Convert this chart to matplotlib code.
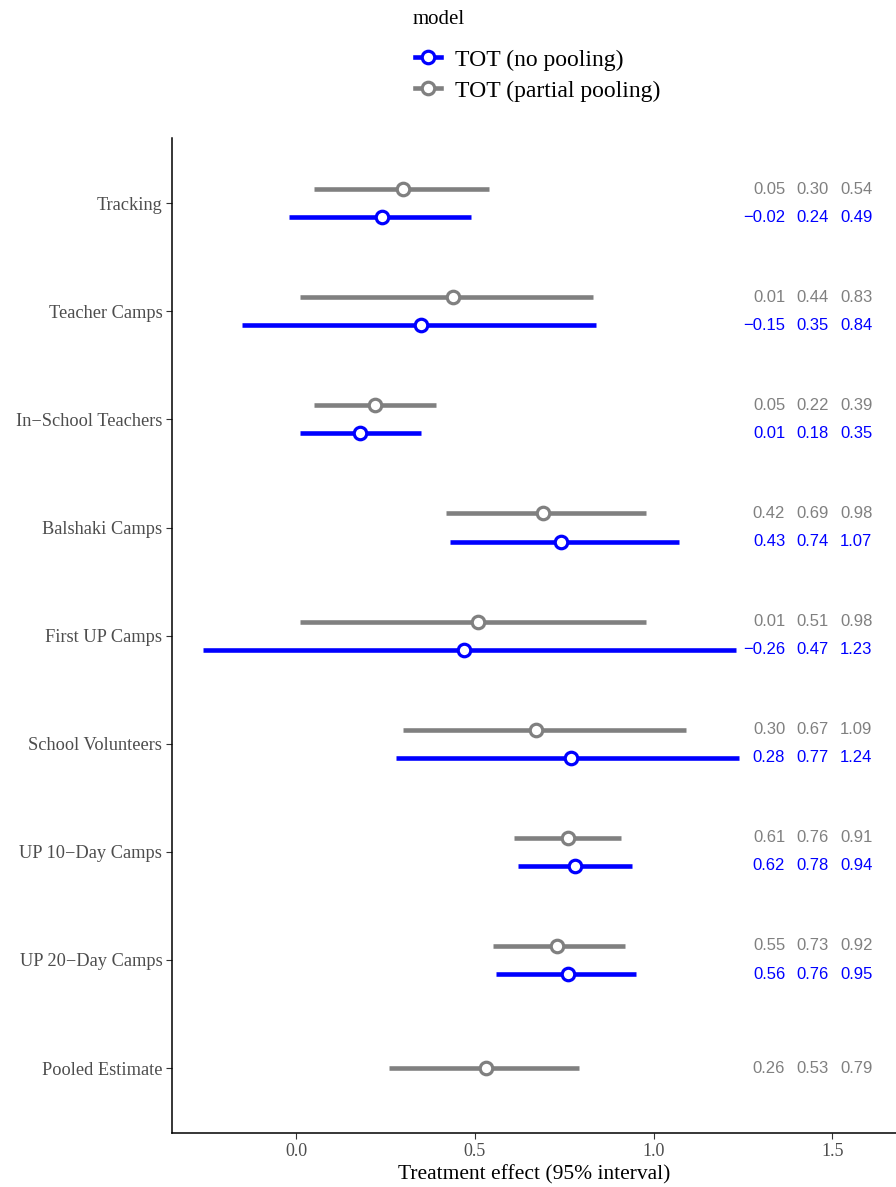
import matplotlib.pyplot as plt
from matplotlib.lines import Line2D

# categories, top to bottom
programs = ["Tracking", "Teacher Camps", "In\u2212School Teachers", "Balshaki Camps",
            "First UP Camps", "School Volunteers", "UP 10\u2212Day Camps",
            "UP 20\u2212Day Camps", "Pooled Estimate"]

# partial pooling (gray): lower, estimate, upper
pp_lo = [0.05, 0.01, 0.05, 0.42, 0.01, 0.30, 0.61, 0.55, 0.26]
pp_est = [0.30, 0.44, 0.22, 0.69, 0.51, 0.67, 0.76, 0.73, 0.53]
pp_hi = [0.54, 0.83, 0.39, 0.98, 0.98, 1.09, 0.91, 0.92, 0.79]

# no pooling (blue), no value for the pooled row
np_lo = [-0.02, -0.15, 0.01, 0.43, -0.26, 0.28, 0.62, 0.56]
np_est = [0.24, 0.35, 0.18, 0.74, 0.47, 0.77, 0.78, 0.76]
np_hi = [0.49, 0.84, 0.35, 1.07, 1.23, 1.24, 0.94, 0.95]

BLUE = "#0000FF"
GRAY = "#808080"
serif = "Liberation Serif"
sans = "Liberation Sans"


def fmt(v):
    return f"{v:.2f}".replace("-", "\u2212")


fig = plt.figure(figsize=(8.96, 11.87), dpi=100)
ax = fig.add_axes([0.192, 0.0455, 0.808, 0.838])

n = len(programs)
ypos = [n - i for i in range(n)]
off = 0.13
lw = 3.3
ms = 9
mew = 2.3

for i, y in enumerate(ypos):
    has_blue = i < len(np_est)
    yg = y + off if has_blue else y
    ax.plot([pp_lo[i], pp_hi[i]], [yg, yg], color=GRAY, lw=lw, solid_capstyle="butt", zorder=2)
    ax.plot(pp_est[i], yg, "o", ms=ms, mfc="white", mec=GRAY, mew=mew, zorder=3)
    for j, v in enumerate([pp_lo[i], pp_est[i], pp_hi[i]]):
        ax.text(1.368 + 0.122 * j, yg, fmt(v), color=GRAY, ha="right", va="center",
                fontsize=12, family=sans)
    if has_blue:
        yb = y - off
        ax.plot([np_lo[i], np_hi[i]], [yb, yb], color=BLUE, lw=lw, solid_capstyle="butt", zorder=2)
        ax.plot(np_est[i], yb, "o", ms=ms, mfc="white", mec=BLUE, mew=mew, zorder=3)
        for j, v in enumerate([np_lo[i], np_est[i], np_hi[i]]):
            ax.text(1.368 + 0.122 * j, yb, fmt(v), color=BLUE, ha="right", va="center",
                    fontsize=12, family=sans)

ax.set_xlim(-0.347, 1.678)
ax.set_ylim(0.4, n + 0.6)
ax.set_yticks(ypos)
ax.set_yticklabels(programs, family=serif, fontsize=13.2, color="#4D4D4D")
ax.set_xticks([0.0, 0.5, 1.0, 1.5])
ax.set_xticklabels(["0.0", "0.5", "1.0", "1.5"], family=serif, fontsize=13, color="#4D4D4D")
ax.set_xlabel("Treatment effect (95% interval)", family=serif, fontsize=15.5, labelpad=4)
ax.tick_params(length=4, width=0.8, color="#333333", pad=3)
for s in ["top", "right"]:
    ax.spines[s].set_visible(False)
for s in ["left", "bottom"]:
    ax.spines[s].set_linewidth(1.1)

handles = [
    Line2D([], [], color=BLUE, lw=lw, marker="o", ms=ms, mfc="white", mec=BLUE, mew=mew),
    Line2D([], [], color=GRAY, lw=lw, marker="o", ms=ms, mfc="white", mec=GRAY, mew=mew),
]
fig.text(413 / 896, 1 - 20 / 1187, "model", family=serif, fontsize=15, va="center", ha="left")
fig.legend(handles, ["TOT (no pooling)", "TOT (partial pooling)"],
           loc="upper left", bbox_to_anchor=(0.463, 1 - 49 / 1187), frameon=False,
           prop={"family": serif, "size": 17}, handlelength=1.1, handletextpad=0.6,
           labelspacing=0.4, borderpad=0, borderaxespad=0)

fig.savefig("out.png", dpi=100)
